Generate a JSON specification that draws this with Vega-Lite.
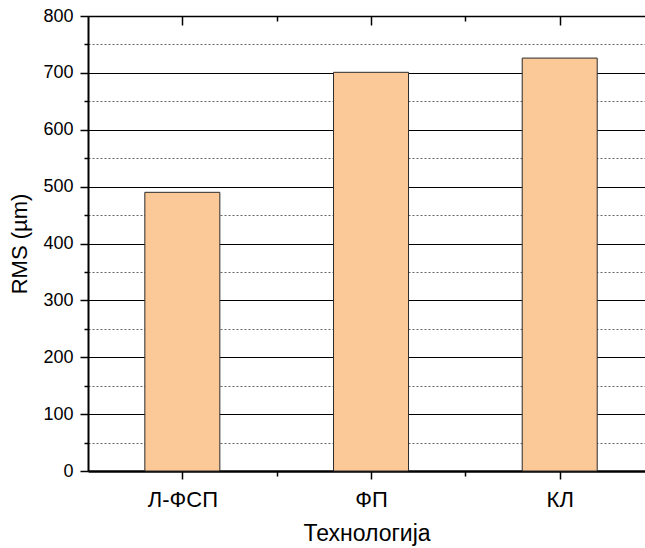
{
  "$schema": "https://vega.github.io/schema/vega-lite/v6.json",
  "width": 557,
  "height": 455,
  "autosize": "none",
  "padding": {"left": 88, "top": 16, "right": 0, "bottom": 77},
  "background": "white",
  "config": {
    "view": {"stroke": null},
    "font": "Liberation Sans",
    "axis": {
      "labelFont": "Liberation Sans",
      "titleFont": "Liberation Sans",
      "labelColor": "black",
      "titleColor": "black",
      "labelFontSize": 18,
      "titleFontSize": 21,
      "titleFontWeight": "normal",
      "tickColor": "black",
      "domainColor": "black"
    }
  },
  "data": {
    "values": [
      {"pos": 1, "tech": "Л-ФСП", "rms": 490},
      {"pos": 2, "tech": "ФП", "rms": 701},
      {"pos": 3, "tech": "КЛ", "rms": 726}
    ]
  },
  "layer": [
    {
      "mark": {"type": "bar", "size": 75, "fill": "#FBC898", "stroke": "#2a2a2a", "strokeWidth": 1},
      "encoding": {
        "x": {
          "field": "pos",
          "type": "quantitative",
          "scale": {"domain": [0.5, 3.452], "nice": false, "zero": false, "padding": 0},
          "axis": {
            "orient": "bottom",
            "title": "Технологија",
            "titleFontSize": 23,
            "values": [1, 1.5, 2, 2.5, 3],
            "labelExpr": "datum.value == 1 ? 'Л-ФСП' : datum.value == 2 ? 'ФП' : datum.value == 3 ? 'КЛ' : ''",
            "labelFontSize": 22,
            "grid": false,
            "domainWidth": 2.5,
            "tickWidth": 1.5,
            "tickSize": {"condition": {"test": "datum.value % 1 == 0", "value": 8}, "value": 5},
            "labelPadding": 10,
            "titlePadding": 12,
            "labelFlush": false,
            "labelOverlap": false
          }
        },
        "y": {
          "field": "rms",
          "type": "quantitative",
          "scale": {"domain": [0, 800], "nice": false},
          "axis": {
            "orient": "left",
            "title": "RMS (µm)",
            "titleFontSize": 22,
            "values": [0, 50, 100, 150, 200, 250, 300, 350, 400, 450, 500, 550, 600, 650, 700, 750, 800],
            "labelExpr": "datum.value % 100 == 0 ? datum.label : ''",
            "grid": true,
            "gridColor": {"condition": {"test": "datum.value % 100 == 0", "value": "#000000"}, "value": "#666666"},
            "gridDash": {"condition": {"test": "datum.value % 100 == 0", "value": []}, "value": [2, 2]},
            "gridWidth": 1,
            "gridOpacity": 1,
            "domainWidth": 2,
            "tickWidth": 1.5,
            "tickSize": {"condition": {"test": "datum.value % 100 == 0", "value": 8}, "value": 4},
            "labelPadding": 7,
            "titlePadding": 11,
            "labelFlush": false,
            "labelOverlap": false
          }
        }
      }
    },
    {
      "mark": {"type": "bar", "size": 75, "opacity": 0},
      "encoding": {
        "x": {
          "field": "pos",
          "type": "quantitative",
          "scale": {"domain": [0.5, 3.452], "nice": false, "zero": false, "padding": 0},
          "axis": {
            "orient": "top",
            "title": null,
            "values": [1, 1.5, 2, 2.5, 3],
            "labels": false,
            "grid": false,
            "domainWidth": 1.5,
            "tickWidth": 1.5,
            "tickSize": {"condition": {"test": "datum.value % 1 == 0", "value": -9}, "value": -5}
          }
        },
        "y": {
          "field": "rms",
          "type": "quantitative",
          "scale": {"domain": [0, 800], "nice": false},
          "axis": null
        }
      }
    }
  ],
  "resolve": {"axis": {"x": "independent", "y": "independent"}}
}
